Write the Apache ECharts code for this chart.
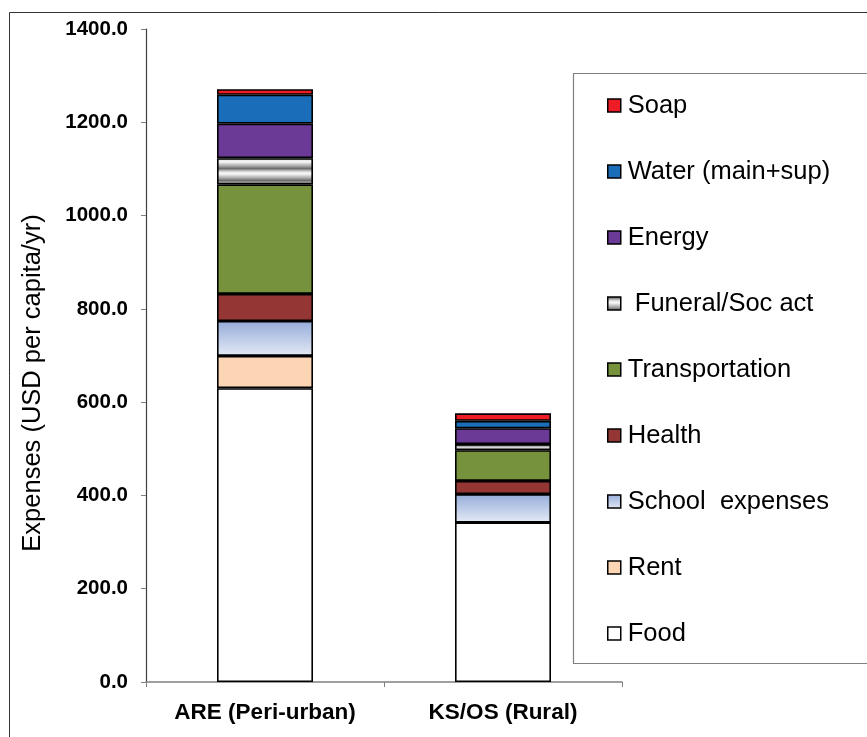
<!DOCTYPE html>
<html>
<head>
<meta charset="utf-8">
<script src="https://cdn.jsdelivr.net/npm/echarts@6/dist/echarts.min.js"></script>
<style>
  html, body { margin: 0; padding: 0; background: #fff; }
  #chart { width: 867px; height: 737px; }
</style>
</head>
<body>
<div id="chart"></div>
<script>
// Household expenses per capita, stacked by category
const categories = ['ARE (Peri-urban)', 'KS/OS (Rural)'];
const food      = [630, 342];
const rent      = [69, 0];
const school    = [75, 61];
const health    = [58, 28];
const transport = [235, 66];
const funeral   = [56, 13];
const energy    = [74, 34];
const water     = [62, 16];
const soap      = [12, 16];
const yTicks = [0, 200, 400, 600, 800, 1000, 1200, 1400];
const yTitle = 'Expenses (USD per capita/yr)';

const FONT = '"Liberation Sans", Arial, sans-serif';

// Metallic horizontal stripe fill for the funeral segment
function stripeCanvas() {
  const rows = ['#6e6e6e', '#8c8c8c', '#b4b4b4', '#d6d6d6', '#ececec', '#f6f6f6',
                '#ebebeb', '#d8d8d8', '#c4c4c4', '#b2b2b2', '#9c9c9c', '#848484'];
  const c = document.createElement('canvas');
  c.width = 4; c.height = rows.length;
  const ctx = c.getContext('2d');
  rows.forEach((col, i) => { ctx.fillStyle = col; ctx.fillRect(0, i, 4, 1); });
  return c;
}

const schoolFill = {
  type: 'linear', x: 0, y: 0, x2: 0, y2: 1,
  colorStops: [{ offset: 0, color: '#95acd9' }, { offset: 1, color: '#e4eaf6' }]
};

const layers = [
  { name: 'Food', data: food, color: '#ffffff' },
  { name: 'Rent', data: rent, color: '#fcd5b4' },
  { name: 'School  expenses', data: school, color: schoolFill },
  { name: 'Health', data: health, color: '#943634' },
  { name: 'Transportation', data: transport, color: '#76923c' },
  { name: ' Funeral/Soc act', data: funeral, color: { image: stripeCanvas(), repeat: 'repeat' } },
  { name: 'Energy', data: energy, color: '#6b3a96' },
  { name: 'Water (main+sup)', data: water, color: '#1a6db8' },
  { name: 'Soap', data: soap, color: '#ee1c25' }
];

const chart = echarts.init(document.getElementById('chart'), null, { renderer: 'canvas' });

chart.setOption({
  animation: false,
  backgroundColor: '#ffffff',
  grid: { left: 146, right: 245, top: 29, bottom: 55, containLabel: false },
  graphic: [
    { type: 'rect', z: -10, shape: { x: 9.5, y: 12.5, width: 900, height: 800 },
      style: { fill: 'none', stroke: '#333333', lineWidth: 1 } },
    { type: 'rect', z: -5, shape: { x: 573.5, y: 73.5, width: 400, height: 590 },
      style: { fill: '#ffffff', stroke: '#808080', lineWidth: 1.2 } },
    { type: 'text', x: 33, y: 383, rotation: Math.PI / 2,
      style: { text: yTitle, font: '25.5px ' + FONT, fill: '#000',
               textAlign: 'center', textVerticalAlign: 'middle' } }
  ],
  legend: {
    orient: 'vertical',
    left: 607,
    top: 92.5,
    icon: 'rect',
    itemWidth: 13,
    itemHeight: 13,
    itemGap: 40,
    padding: 0,
    data: layers.map(l => l.name).reverse(),
    itemStyle: { borderColor: '#000000', borderWidth: 1.5 },
    textStyle: { fontFamily: FONT, fontSize: 25.5, color: '#000000', lineHeight: 26, padding: [0, 0, 0, 2] }
  },
  xAxis: {
    type: 'category',
    data: categories,
    axisLine: { lineStyle: { color: '#808080', width: 1.5 } },
    axisTick: { show: true, length: 5, lineStyle: { color: '#808080' } },
    axisLabel: { fontFamily: FONT, fontSize: 22.5, fontWeight: 'bold', color: '#000', margin: 19 }
  },
  yAxis: {
    type: 'value',
    min: 0,
    max: 1400,
    interval: 200,
    splitLine: { show: false },
    axisLine: { show: true, lineStyle: { color: '#404040', width: 1.2 } },
    axisTick: { show: true, length: 5, lineStyle: { color: '#808080' } },
    axisLabel: {
      fontFamily: FONT, fontSize: 20.5, fontWeight: 'bold', color: '#000', margin: 18,
      formatter: v => yTicks.includes(v) ? v.toFixed(1) : ''
    }
  },
  series: layers.map(l => ({
    name: l.name,
    type: 'bar',
    stack: 'total',
    barWidth: 96,
    data: l.data,
    itemStyle: { color: l.color, borderColor: '#000000', borderWidth: 1.6 }
  }))
});
</script>
</body>
</html>
